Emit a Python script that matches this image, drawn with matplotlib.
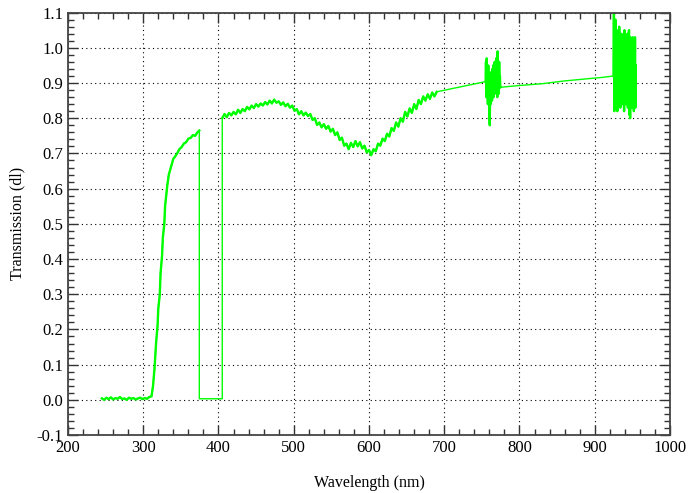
import numpy as np
import matplotlib
matplotlib.use('Agg')
import matplotlib.pyplot as plt
from matplotlib.ticker import MultipleLocator, FormatStrFormatter

plt.rcParams['font.family'] = ['Liberation Serif', 'DejaVu Serif']
plt.rcParams['axes.unicode_minus'] = False

# flat baseline before the cut-on edge (every 3 nm from 245)
base_wl = np.arange(245, 309, 3)
base_t = [0.004, 0.000, 0.006, 0.002, 0.007, 0.001, 0.005, 0.003, 0.008, 0.002,
          0.004, 0.000, 0.006, 0.003, 0.005, 0.001, 0.004, 0.006, 0.002, 0.005,
          0.003, 0.008]

# steep rise up to 374.5 nm
rise_wl = [311, 313, 315, 317, 319, 320, 322, 323, 325, 326, 328, 329, 331, 332,
           334, 336, 338, 340, 342, 345, 348, 351, 354, 357, 360, 363, 366, 369,
           372, 374.5]
rise_t = [0.010, 0.040, 0.090, 0.160, 0.210, 0.260, 0.300, 0.360, 0.410, 0.460,
          0.500, 0.550, 0.590, 0.610, 0.640, 0.655, 0.670, 0.685, 0.690, 0.700,
          0.712, 0.718, 0.728, 0.732, 0.742, 0.744, 0.752, 0.750, 0.760, 0.765]

# gap between 375 and 405 nm (zero)
gap_wl = [374.5, 405]
gap_t = [0.003, 0.003]

# main band 405-690 nm, every 3 nm
main_wl = np.arange(405, 691, 3)
main_t = [0.800, 0.812, 0.803, 0.815, 0.808, 0.818, 0.811, 0.824, 0.815, 0.826,
          0.820, 0.832, 0.825, 0.836, 0.829, 0.840, 0.833, 0.842, 0.836, 0.846,
          0.839, 0.850, 0.842, 0.853, 0.844, 0.848, 0.838, 0.845, 0.834, 0.841,
          0.830, 0.836, 0.821, 0.826, 0.811, 0.820, 0.808, 0.816, 0.806, 0.812,
          0.795, 0.800, 0.781, 0.788, 0.774, 0.783, 0.770, 0.778, 0.762, 0.770,
          0.752, 0.760, 0.738, 0.745, 0.722, 0.728, 0.712, 0.730, 0.718, 0.735,
          0.720, 0.732, 0.714, 0.722, 0.703, 0.710, 0.695, 0.712, 0.706, 0.728,
          0.722, 0.742, 0.735, 0.756, 0.748, 0.772, 0.764, 0.788, 0.776, 0.800,
          0.790, 0.818, 0.805, 0.828, 0.815, 0.840, 0.826, 0.852, 0.840, 0.862,
          0.850, 0.868, 0.855, 0.873, 0.862, 0.875]

# O2 A-band region, 755-775 nm every 0.5 nm
burst1_wl = np.arange(755, 775.1, 0.5)
burst1_t = [0.904, 0.96, 0.86, 0.97, 0.87, 0.93, 0.84, 0.95, 0.88, 0.92,
            0.82, 0.78, 0.90, 0.84, 0.93, 0.86, 0.91, 0.85, 0.94, 0.87,
            0.95, 0.86, 0.93, 0.88, 0.96, 0.87, 0.94, 0.89, 0.97, 0.88,
            0.95, 0.86, 0.99, 0.89, 0.93, 0.87, 0.96, 0.90, 0.92, 0.89,
            0.888]

# sparse points between the two noisy bands
bridge_wl = [800, 830, 860, 890, 910]
bridge_t = [0.893, 0.898, 0.906, 0.912, 0.916]

# water band, 925-954.5 nm every 0.5 nm
burst2_wl = np.arange(925, 954.6, 0.5)
burst2_t = [0.92, 1.10, 0.82, 1.06, 0.84, 1.08, 0.83, 1.00, 0.86, 1.05,
            0.82, 0.98, 0.85, 1.03, 0.84, 1.06, 0.88, 0.97, 0.83, 1.02,
            0.87, 1.04, 0.85, 0.99, 0.84, 1.03, 0.89, 0.96, 0.82, 1.05,
            0.86, 1.00, 0.84, 1.03, 0.88, 0.97, 0.85, 1.04, 0.83, 1.01,
            0.86, 1.05, 0.81, 0.99, 0.80, 1.03, 0.85, 1.02, 0.83, 0.98,
            0.87, 1.03, 0.84, 1.02, 0.82, 1.00, 0.86, 1.03, 0.83, 0.95]

green = '#00ff00'

wl = np.concatenate([base_wl, rise_wl, gap_wl, main_wl, burst1_wl, bridge_wl, burst2_wl])
t = np.concatenate([base_t, rise_t, gap_t, main_t, burst1_t, bridge_t, burst2_t])

fig = plt.figure(figsize=(6.89, 4.93), dpi=100)
ax = fig.add_axes([0.0987, 0.1176, 0.8737, 0.8568])

# whole trace thin, then the measured (noisy) parts a bit heavier
ax.plot(wl, t, color=green, lw=1.0)
for x, y in [(np.concatenate([base_wl, rise_wl]), np.concatenate([base_t, rise_t])),
             (main_wl, main_t), (burst1_wl, burst1_t), (burst2_wl, burst2_t)]:
    ax.plot(x, y, color=green, lw=1.7)

ax.set_xlim(200, 1000)
ax.set_ylim(-0.1, 1.1)
ax.xaxis.set_major_locator(MultipleLocator(100))
ax.xaxis.set_minor_locator(MultipleLocator(20))
ax.yaxis.set_major_locator(MultipleLocator(0.1))
ax.yaxis.set_minor_locator(MultipleLocator(0.02))
ax.yaxis.set_major_formatter(FormatStrFormatter('%.1f'))

ax.grid(True, which='major', color='black', lw=0.8, linestyle=(0, (1, 3)))
ax.tick_params(which='both', direction='in', top=True, right=True,
               color='#333333', width=1.0, labelsize=12)
ax.tick_params(which='major', length=7)
ax.tick_params(which='minor', length=4)
for s in ax.spines.values():
    s.set_color('#444444')
    s.set_linewidth(1.3)

ax.set_xlabel('Wavelength (nm)', fontsize=11.5, labelpad=14)
ax.set_ylabel('Transmission (dl)', fontsize=11.5, labelpad=8)

fig.savefig('out.png', dpi=100)
